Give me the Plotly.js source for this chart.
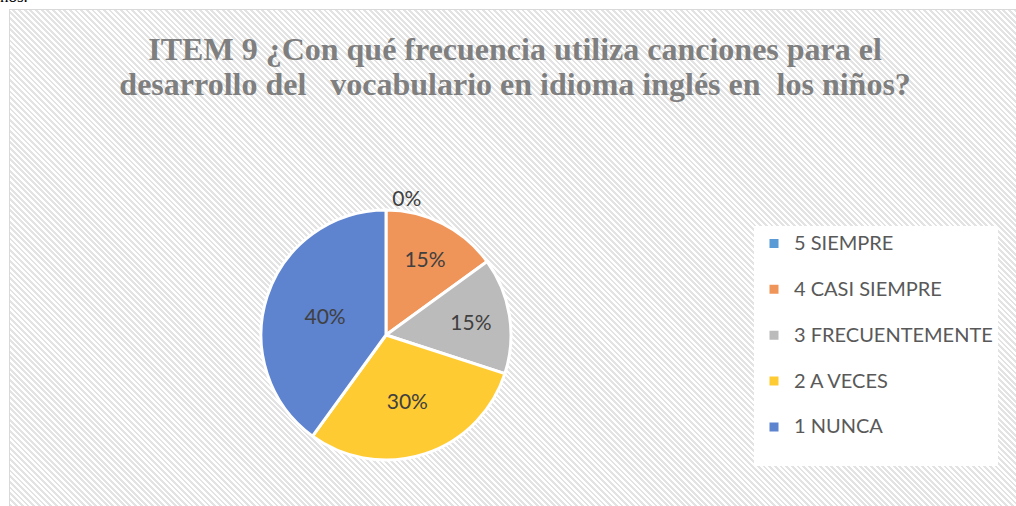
<!DOCTYPE html>
<html>
<head>
<meta charset="utf-8">
<script src="https://cdn.plot.ly/plotly-3.0.1.min.js"></script>
<style>
  html, body { margin: 0; padding: 0; width: 1016px; height: 506px; overflow: hidden; background: #ffffff; }
  #frag { position: absolute; left: 0px; top: -13px; font-family: "Liberation Serif", serif; font-size: 17px; color: #000; }
  #frame { position: absolute; left: 9px; top: 9px; width: 1020px; height: 510px; border: 1px solid #d9d9d9;
    background: repeating-linear-gradient(45deg, #ffffff 0px, #ffffff 2px, #e3e3e3 2px, #e3e3e3 4px); }
  #chart { position: absolute; left: 0; top: 0; width: 1016px; height: 506px; }
</style>
</head>
<body>
<div id="frag">ños.</div>
<div id="frame"></div>
<div id="chart"></div>
<script>
const categories = ["5 SIEMPRE", "4 CASI SIEMPRE", "3 FRECUENTEMENTE", "2 A VECES", "1 NUNCA"];
const percentages = [0, 15, 15, 30, 40];
const sliceColors = ["#5B9BD5", "#F0955A", "#BBBBBB", "#FFCB33", "#5E83CF"];
const titleLines = ["ITEM 9 ¿Con qué frecuencia utiliza canciones para el", "desarrollo del   vocabulario en idioma inglés en  los niños?"];

const titleText = '<span style="font-size:32px"><b>' + titleLines.join("<br>") + '</b></span>';
const legendLabels = categories.map(c => '<span style="font-size:20px">' + c + '</span><br> ');
const textPositions = percentages.map(v => v === 0 ? "outside" : "inside");

const trace = {
  type: "pie",
  labels: legendLabels,
  values: percentages,
  sort: false,
  direction: "clockwise",
  rotation: 0,
  marker: { colors: sliceColors, line: { color: "#ffffff", width: 3 } },
  textinfo: "percent",
  texttemplate: "%{percent:.0%}",
  textposition: textPositions,
  insidetextorientation: "horizontal",
  textfont: { family: "Lato, sans-serif", size: 21, color: "#404040" },
  outsidetextfont: { family: "Lato, sans-serif", size: 21, color: "#404040" },
  domain: { x: [261/1016, 511/1016], y: [(506-460)/506, (506-210)/506] },
  automargin: false,
  hoverinfo: "percent"
};

const layout = {
  width: 1016, height: 506,
  margin: { l: 0, r: 0, t: 0, b: 0 },
  paper_bgcolor: "rgba(0,0,0,0)",
  plot_bgcolor: "rgba(0,0,0,0)",
  title: {
    text: titleText,
    font: { family: "Liberation Serif, serif", size: 27, color: "#7f7f7f" },
    x: 0.507, xanchor: "center", y: 0.882, yanchor: "middle"
  },
  showlegend: true,
  legend: {
    x: 754/1016, y: 0.553, xanchor: "left", yanchor: "top",
    bgcolor: "#ffffff",
    font: { family: "Lato, sans-serif", size: 16.5, color: "#595959" },
    valign: "top",
    traceorder: "normal",
    itemwidth: 30
  }
};

Plotly.newPlot("chart", [trace], layout, { displayModeBar: false, staticPlot: true });
</script>
</body>
</html>
